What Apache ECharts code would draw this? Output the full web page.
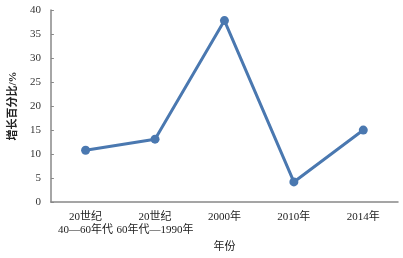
<!DOCTYPE html>
<html><head><meta charset="utf-8">
<script src="https://cdn.jsdelivr.net/npm/echarts@6/dist/echarts.min.js"></script>
<style>html,body{margin:0;padding:0;background:#fff}#c{width:403px;height:258px}</style>
</head><body><div id="c"></div>
<script>
const categories = ['20世纪\n40—60年代', '20世纪\n60年代—1990年', '2000年', '2010年', '2014年'];
const values = [10.8, 13.1, 37.8, 4.2, 15.0];
const yTicks = [0, 5, 10, 15, 20, 25, 30, 35, 40];
const font = '"Liberation Serif", "Noto Sans CJK SC", serif';
const chart = echarts.init(document.getElementById('c'));
chart.setOption({
  animation: false,
  grid: {left: 50, right: 5, top: 10, bottom: 53},
  xAxis: {
    type: 'category', data: categories, boundaryGap: true,
    name: '年份', nameLocation: 'middle', nameGap: 34,
    nameTextStyle: {fontFamily: font, fontSize: 11, color: '#222'},
    axisLine: {lineStyle: {color: '#888', width: 1.5}},
    axisTick: {inside: true, alignWithLabel: true, length: 4, lineStyle: {color: '#888'}},
    axisLabel: {fontFamily: font, fontSize: 11, color: '#222', margin: 9, lineHeight: 13, interval: 0}
  },
  yAxis: {
    type: 'value', min: yTicks[0], max: yTicks[yTicks.length-1], interval: 5,
    name: '增长百分比/%', nameLocation: 'middle', nameGap: 29, nameRotate: 90,
    nameTextStyle: {fontFamily: font, fontSize: 11, color: '#222', fontWeight: 'bold'},
    axisLine: {show: true, lineStyle: {color: '#888', width: 1.5}},
    axisTick: {show: true, inside: true, length: 3, lineStyle: {color: '#888'}},
    splitLine: {show: false},
    axisLabel: {fontFamily: font, fontSize: 11, color: '#333', margin: 10}
  },
  series: [{
    type: 'line', data: values, symbol: 'circle', symbolSize: 9,
    lineStyle: {color: '#4a78b0', width: 3},
    itemStyle: {color: '#4a78b0'}
  }]
});
</script></body></html>
